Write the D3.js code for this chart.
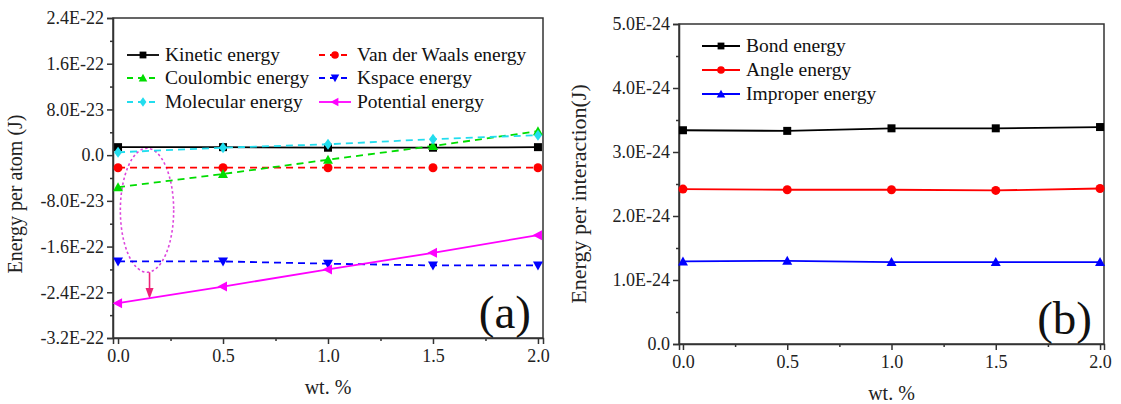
<!DOCTYPE html>
<html>
<head>
<meta charset="utf-8">
<script src="https://cdn.jsdelivr.net/npm/d3@7"></script>
<style>
  body { margin: 0; background: #fff; }
  svg text { font-family: "Liberation Serif", serif; }
  svg { display: block; }
</style>
</head>
<body>
<svg id="chart" width="1121" height="404"></svg>
<script>
// x values (wt. %)
const wt = [0, 0.5, 1.0, 1.5, 2.0];

// panel (a): energy per atom (J)
const kinetic   = [1.4e-23, 1.4e-23, 1.3e-23, 1.3e-23, 1.4e-23];
const vdw       = [-2.2e-23, -2.2e-23, -2.2e-23, -2.2e-23, -2.2e-23];
const coulombic = [-5.6e-23, -3.3e-23, -0.8e-23, 1.6e-23, 4.2e-23];
const kspace    = [-18.6e-23, -18.6e-23, -19.0e-23, -19.3e-23, -19.3e-23];
const molecular = [0.5e-23, 1.3e-23, 1.9e-23, 2.8e-23, 3.5e-23];
const potential = [-25.9e-23, -23.0e-23, -20.0e-23, -17.1e-23, -14.0e-23];

// panel (b): energy per interaction (J)
const bond     = [3.34e-24, 3.33e-24, 3.37e-24, 3.37e-24, 3.39e-24];
const angle    = [2.42e-24, 2.41e-24, 2.41e-24, 2.40e-24, 2.43e-24];
const improper = [1.29e-24, 1.30e-24, 1.28e-24, 1.28e-24, 1.28e-24];

// tick labels
const xTicks = [0, 0.5, 1.0, 1.5, 2.0];
const xTickLabels = ["0.0", "0.5", "1.0", "1.5", "2.0"];
const aTicks = [-3.2e-22, -2.4e-22, -1.6e-22, -8e-23, 0, 8e-23, 1.6e-22, 2.4e-22];
const aTickLabels = ["-3.2E-22", "-2.4E-22", "-1.6E-22", "-8.0E-23", "0.0", "8.0E-23", "1.6E-22", "2.4E-22"];
const bTicks = [0, 1e-24, 2e-24, 3e-24, 4e-24, 5e-24];
const bTickLabels = ["0.0", "1.0E-24", "2.0E-24", "3.0E-24", "4.0E-24", "5.0E-24"];

const svg = d3.select("#chart");
const FONT = "font-family: 'Liberation Serif', serif";

// marker shapes
function symbolPath(type, size) {
  const s = size / 2;
  if (type === "left") return `M${-s * 1.1},0L${s * 0.8},${-s}L${s * 0.8},${s}Z`;
  if (type === "down") return `M${-s},${-s * 0.8}L${s},${-s * 0.8}L0,${s * 1.0}Z`;
  if (type === "up") return `M${-s},${s * 0.8}L${s},${s * 0.8}L0,${-s * 1.0}Z`;
  if (type === "diamond") return `M0,${-s * 1.1}L${s * 0.8},0L0,${s * 1.1}L${-s * 0.8},0Z`;
  if (type === "square") return `M${-s},${-s}H${s}V${s}H${-s}Z`;
  return d3.symbol().type(d3.symbolCircle).size(Math.PI * s * s)();
}

function drawPanel(cfg) {
  const g = svg.append("g");
  const x = d3.scaleLinear().domain(cfg.xDomain).range([cfg.left, cfg.right]);
  const y = d3.scaleLinear().domain(cfg.yDomain).range([cfg.bottom, cfg.top]);

  // frame
  g.append("rect")
    .attr("x", cfg.left).attr("y", cfg.top)
    .attr("width", cfg.right - cfg.left).attr("height", cfg.bottom - cfg.top)
    .attr("fill", "none").attr("stroke", "#333").attr("stroke-width", 1.5);

  // x axis
  g.append("g").attr("transform", `translate(0,${cfg.bottom})`)
    .call(d3.axisBottom(x).tickValues(xTicks).tickFormat((d, i) => xTickLabels[i]).tickSize(6).tickPadding(5));
  g.append("g").attr("transform", `translate(0,${cfg.bottom})`)
    .call(d3.axisBottom(x).tickValues([0.25, 0.75, 1.25, 1.75]).tickFormat("").tickSize(3))
    .call(s => s.select(".domain").remove());

  // y axis
  g.append("g").attr("transform", `translate(${cfg.left},0)`)
    .call(d3.axisLeft(y).tickValues(cfg.yTicks).tickFormat((d, i) => cfg.yTickLabels[i]).tickSize(6).tickPadding(3));
  const minor = [];
  for (let i = 0; i < cfg.yTicks.length - 1; i++) minor.push((cfg.yTicks[i] + cfg.yTicks[i + 1]) / 2);
  g.append("g").attr("transform", `translate(${cfg.left},0)`)
    .call(d3.axisLeft(y).tickValues(minor).tickFormat("").tickSize(3))
    .call(s => s.select(".domain").remove());

  g.selectAll("g").attr("font-family", null).attr("font-size", 18);
  g.selectAll(".domain").attr("stroke", "#333").attr("stroke-width", 1.5);
  g.selectAll(".tick line").attr("stroke", "#333").attr("stroke-width", 1.5);
  g.selectAll(".tick text").attr("fill", "#222");

  // axis titles
  g.append("text")
    .attr("x", (cfg.left + cfg.right) / 2).attr("y", cfg.bottom + 56)
    .attr("text-anchor", "middle").attr("font-size", 20).attr("fill", "#222")
    .text("wt. %");
  g.append("text")
    .attr("transform", `translate(${cfg.yTitleX},${cfg.yTitleY}) rotate(-90)`)
    .attr("text-anchor", "middle").attr("font-size", cfg.yTitleSize).attr("fill", "#222")
    .text(cfg.yTitle);

  // panel label
  g.append("text")
    .attr("x", cfg.right - 12).attr("y", cfg.bottom - 10)
    .attr("text-anchor", "end").attr("font-size", 47).attr("fill", "#111")
    .text(cfg.label);

  const line = d3.line().x((d, i) => x(wt[i])).y(d => y(d));

  if (cfg.annotate) cfg.annotate(g, x, y);

  cfg.series.forEach(s => {
    g.append("path").datum(s.values)
      .attr("d", line).attr("fill", "none")
      .attr("stroke", s.color).attr("stroke-width", 1.8)
      .attr("stroke-dasharray", s.dash ? "7,5" : null);
    g.selectAll(null).data(s.values).join("path")
      .attr("transform", (d, i) => `translate(${x(wt[i])},${y(d)})`)
      .attr("d", symbolPath(s.shape, s.size))
      .attr("fill", s.color);
  });

  // legend
  cfg.series.forEach((s, k) => {
    const lx = cfg.legendX[k % cfg.legendX.length];
    const ly = cfg.legendY[Math.floor(k / cfg.legendX.length)];
    g.append("line")
      .attr("x1", lx).attr("x2", lx + cfg.legendLine).attr("y1", ly).attr("y2", ly)
      .attr("stroke", s.color).attr("stroke-width", 1.8)
      .attr("stroke-dasharray", s.dash ? "6,5" : null);
    g.append("path")
      .attr("transform", `translate(${lx + cfg.legendLine / 2},${ly})`)
      .attr("d", symbolPath(s.shape, s.size * 0.85)).attr("fill", s.color);
    g.append("text")
      .attr("x", lx + cfg.legendLine + 6).attr("y", ly + 6)
      .attr("font-size", 19.5).attr("fill", "#111")
      .text(s.name);
  });

  g.selectAll("text").attr("style", FONT);
}

// panel (a)
drawPanel({
  left: 113, right: 543, top: 18, bottom: 338,
  xDomain: [-0.024, 2.024], yDomain: [-3.2e-22, 2.4e-22],
  yTicks: aTicks, yTickLabels: aTickLabels,
  yTitle: "Energy per atom (J)", yTitleX: 22, yTitleY: 194, yTitleSize: 20,
  label: "(a)",
  legendX: [127, 319], legendY: [55, 78, 102], legendLine: 32,
  series: [
    { name: "Kinetic energy", values: kinetic, color: "#000000", dash: false, shape: "square", size: 8 },
    { name: "Van der Waals energy", values: vdw, color: "#ff0000", dash: true, shape: "circle", size: 9 },
    { name: "Coulombic energy", values: coulombic, color: "#00dd00", dash: true, shape: "up", size: 10 },
    { name: "Kspace energy", values: kspace, color: "#0000ff", dash: true, shape: "down", size: 10 },
    { name: "Molecular energy", values: molecular, color: "#22ddee", dash: true, shape: "diamond", size: 10 },
    { name: "Potential energy", values: potential, color: "#ff00ff", dash: false, shape: "left", size: 10 }
  ],
  annotate: (g, x, y) => {
    const top = y(1.2e-23), bot = y(-20.5e-23);
    g.append("ellipse")
      .attr("cx", x(0.138)).attr("cy", (top + bot) / 2)
      .attr("rx", x(0.265) - x(0.138)).attr("ry", (bot - top) / 2)
      .attr("fill", "none").attr("stroke", "#dd44dd").attr("stroke-width", 1.6)
      .attr("stroke-dasharray", "2.5,2.5");
    const ax = x(0.15), y1 = y(-25.0e-23);
    g.append("line")
      .attr("x1", ax).attr("x2", ax).attr("y1", bot).attr("y2", y1 - 6)
      .attr("stroke", "#ee2277").attr("stroke-width", 1.6);
    g.append("path")
      .attr("d", `M${ax - 4},${y1 - 10}L${ax + 4},${y1 - 10}L${ax},${y1 + 1}Z`)
      .attr("fill", "#ee2277");
  }
});

// panel (b)
drawPanel({
  left: 679, right: 1104, top: 24, bottom: 344,
  xDomain: [-0.019, 2.019], yDomain: [0, 5e-24],
  yTicks: bTicks, yTickLabels: bTickLabels,
  yTitle: "Energy per interaction(J)", yTitleX: 586, yTitleY: 194, yTitleSize: 22,
  label: "(b)",
  legendX: [702], legendY: [46, 70, 94], legendLine: 38,
  series: [
    { name: "Bond energy", values: bond, color: "#000000", dash: false, shape: "square", size: 8 },
    { name: "Angle energy", values: angle, color: "#ff0000", dash: false, shape: "circle", size: 9 },
    { name: "Improper energy", values: improper, color: "#0000ff", dash: false, shape: "up", size: 10 }
  ]
});
</script>
</body>
</html>
